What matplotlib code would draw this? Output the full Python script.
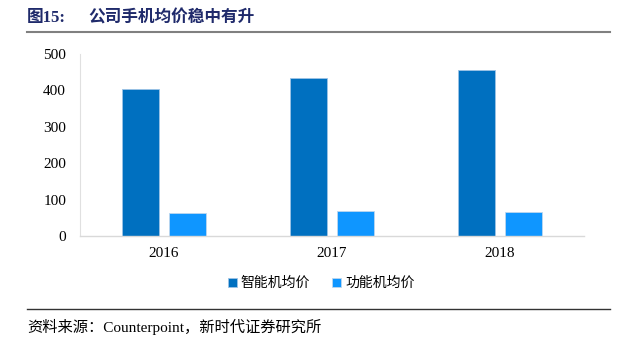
import matplotlib
matplotlib.use('Agg')
import matplotlib.pyplot as plt
import numpy as np
from matplotlib.lines import Line2D

plt.rcParams['font.family'] = ['Liberation Serif', 'Noto Sans CJK SC']

years = ['2016', '2017', '2018']
smart_price = [405, 433, 455]
feature_price = [62, 69, 66]
series_names = ['智能机均价', '功能机均价']
title_text = '公司手机均价稳中有升'
source_text = '资料来源：Counterpoint，新时代证券研究所'

fig = plt.figure(figsize=(6.24, 3.44), dpi=100)
ax = fig.add_axes([0.1282, 0.314, 0.8077, 0.529])

x = np.arange(len(years))
w = 0.223
off = 0.141
ax.bar(x - off, smart_price, w, color='#0070C0', edgecolor='#9DC3E6', linewidth=0.6, label=series_names[0])
ax.bar(x + off, feature_price, w, color='#0F96FF', edgecolor='#BDD7EE', linewidth=0.6, label=series_names[1])

ax.set_xlim(-0.5, 2.5)
ax.set_ylim(0, 500)
ax.set_yticks([0, 100, 200, 300, 400, 500])
ax.set_xticks(x)
ax.set_xticklabels(years)
ax.tick_params(axis='both', length=0, labelsize=11, colors='black')
ax.tick_params(axis='x', pad=8)
ax.tick_params(axis='y', pad=10)
for s in ['top', 'right']:
    ax.spines[s].set_visible(False)
ax.spines['left'].set_color('#E0E0E0')
ax.spines['bottom'].set_color('#D9D9D9')
ax.spines['left'].set_linewidth(0.8)
ax.spines['bottom'].set_linewidth(1.0)

leg = fig.legend(loc='center', bbox_to_anchor=(0.515, 0.177), ncol=2, frameon=False,
                 prop={'family': 'Noto Sans CJK SC', 'size': 10}, handlelength=0.6,
                 handleheight=0.6, handletextpad=0.3, columnspacing=1.6)

# title
fig.text(0.043, 0.948, '图15:', fontsize=12, fontweight='bold', color='#1F2A6B',
         family=['Liberation Serif', 'Noto Sans CJK SC'], va='center')
fig.text(0.142, 0.948, title_text, fontsize=12, fontweight='bold', color='#1F2A6B',
         family='Noto Sans CJK SC', va='center')
fig.add_artist(Line2D([0.043, 0.978], [0.907, 0.907], color='#808080', linewidth=1.5))

# footer
fig.add_artist(Line2D([0.043, 0.978], [0.102, 0.102], color='#333333', linewidth=1.0))
fig.text(0.043, 0.05, source_text, fontsize=11, color='black', va='center',
         family=['Liberation Serif', 'Noto Sans CJK SC'])

fig.savefig('out.png', dpi=100)
